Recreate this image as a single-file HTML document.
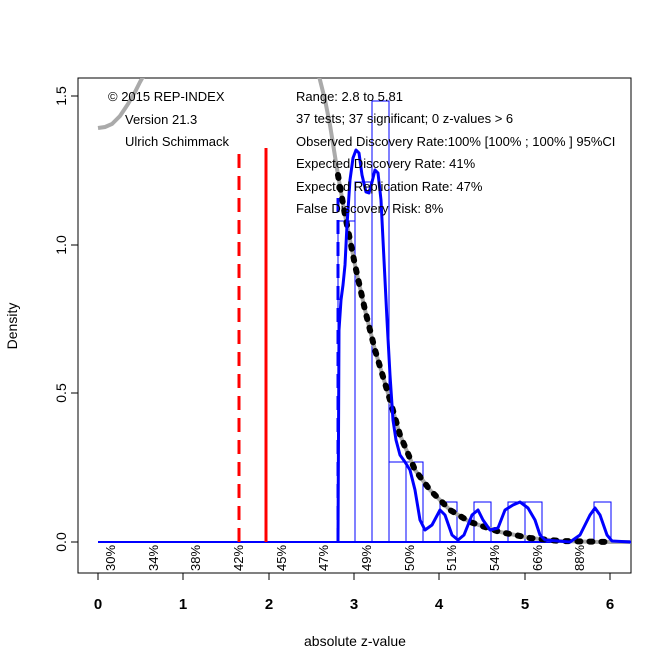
<!DOCTYPE html>
<html><head><style>body{margin:0;background:#fff}svg{display:block;font-family:"Liberation Sans",Arial,sans-serif}</style></head>
<body>
<svg width="672" height="671" viewBox="0 0 672 671">
<defs><clipPath id="c"><rect x="78" y="78" width="553" height="495"/></clipPath></defs>
<rect x="78" y="78" width="553" height="495" fill="none" stroke="#000" stroke-width="1"/>
<g clip-path="url(#c)">
<line x1="98" y1="542" x2="631" y2="542" stroke="#00f" stroke-width="2"/>
<g fill="none" stroke="#00f" stroke-width="1">
<rect x="338" y="221" width="17" height="321"/>
<rect x="355" y="182" width="17" height="360"/>
<rect x="372" y="101" width="17" height="441"/>
<rect x="389" y="462" width="17" height="80"/>
<rect x="406" y="462" width="17" height="80"/>
<rect x="440" y="502" width="17" height="40"/>
<rect x="474" y="502" width="17" height="40"/>
<rect x="508" y="502" width="17" height="40"/>
<rect x="525" y="502" width="17" height="40"/>
<rect x="594" y="502" width="17" height="40"/>
</g>
<polyline fill="none" stroke="#aaa" stroke-width="4" points="98,128 105,127 112,124 120,116 128,104 135,92 140,82 145,73"/>
<polyline fill="none" stroke="#aaa" stroke-width="4" points="318,72 325,100 330,125 338,175 345,215 355,265 365,310 375,350 390,400 400,435 415,470 430,490 450,510 470,522 500,532 530,538 560,541 600,542 631,542"/>
<polyline fill="none" stroke="#000" stroke-width="6" stroke-linecap="round" stroke-dasharray="3,9" points="338,175 345,215 355,265 365,310 375,350 390,400 400,435 415,470 430,490 450,510 470,522 500,532 530,538 560,541 610,542"/>
<polyline fill="none" stroke="#00f" stroke-width="3" stroke-linejoin="round" points="338,540 339,330 341,300 343,285 345,265 347,225 350,180 353,158 356,150 359,153 362,175 366,192 369,193 372,182 375,170 378,173 381,200 384,260 387,320 390,375 393,420 396,440 400,455 405,462 410,470 415,490 420,520 425,530 432,525 440,510 445,515 452,535 458,540 464,535 472,515 478,510 483,520 490,530 498,528 505,510 513,505 520,502 528,508 535,520 540,535 545,540 570,542 580,535 590,515 595,508 600,515 607,535 612,541 631,542"/>
<line x1="338" y1="542" x2="338" y2="190" stroke="#00f" stroke-width="3" stroke-dasharray="14,8"/>
<line x1="239" y1="542" x2="239" y2="148" stroke="#f00" stroke-width="3" stroke-dasharray="14,8"/>
<line x1="266" y1="542" x2="266" y2="148" stroke="#f00" stroke-width="3"/>
</g>
<g font-size="13" fill="#000">
<text x="108" y="101">© 2015 REP-INDEX</text>
<text x="125" y="124">Version 21.3</text>
<text x="125" y="146">Ulrich Schimmack</text>
<text x="296" y="101">Range: 2.8 to 5.81</text>
<text x="296" y="123">37 tests; 37 significant; 0 z-values &gt; 6</text>
<text x="296" y="146">Observed Discovery Rate:100% [100% ; 100% ] 95%CI</text>
<text x="296" y="168">Expected Discovery Rate: 41%</text>
<text x="296" y="191">Expected Replication Rate: 47%</text>
<text x="296" y="213">False Discovery Risk: 8%</text>
</g>
<g font-size="13" fill="#000">
<text transform="translate(115,571) rotate(-90)">30%</text>
<text transform="translate(158,571) rotate(-90)">34%</text>
<text transform="translate(200,571) rotate(-90)">38%</text>
<text transform="translate(243,571) rotate(-90)">42%</text>
<text transform="translate(286,571) rotate(-90)">45%</text>
<text transform="translate(328,571) rotate(-90)">47%</text>
<text transform="translate(371,571) rotate(-90)">49%</text>
<text transform="translate(414,571) rotate(-90)">50%</text>
<text transform="translate(456,571) rotate(-90)">51%</text>
<text transform="translate(499,571) rotate(-90)">54%</text>
<text transform="translate(542,571) rotate(-90)">66%</text>
<text transform="translate(584,571) rotate(-90)">88%</text>
</g>
<g stroke="#000" stroke-width="1">
<line x1="98" y1="573" x2="98" y2="580"/><line x1="183" y1="573" x2="183" y2="580"/><line x1="269" y1="573" x2="269" y2="580"/><line x1="354" y1="573" x2="354" y2="580"/><line x1="439" y1="573" x2="439" y2="580"/><line x1="525" y1="573" x2="525" y2="580"/><line x1="610" y1="573" x2="610" y2="580"/>
<line x1="71" y1="542" x2="78" y2="542"/><line x1="71" y1="393" x2="78" y2="393"/><line x1="71" y1="245" x2="78" y2="245"/><line x1="71" y1="96" x2="78" y2="96"/>
</g>
<g font-size="15" font-weight="bold" text-anchor="middle">
<text x="98" y="609">0</text><text x="183" y="609">1</text><text x="269" y="609">2</text><text x="354" y="609">3</text><text x="439" y="609">4</text><text x="525" y="609">5</text><text x="610" y="609">6</text>
</g>
<g font-size="14" text-anchor="middle">
<text transform="translate(66,542) rotate(-90)">0.0</text>
<text transform="translate(66,393) rotate(-90)">0.5</text>
<text transform="translate(66,245) rotate(-90)">1.0</text>
<text transform="translate(66,96) rotate(-90)">1.5</text>
<text transform="translate(17,326) rotate(-90)">Density</text>
<text x="355" y="646">absolute z-value</text>
</g>
</svg>
</body></html>
